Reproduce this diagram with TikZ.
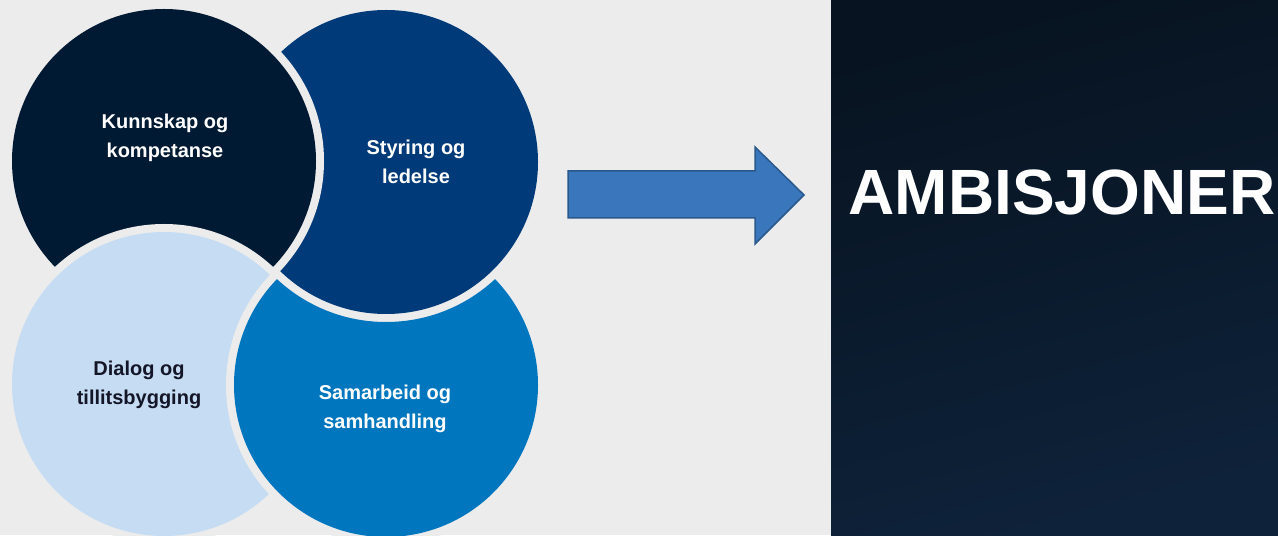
\documentclass[tikz,border=0pt]{standalone}
\usepackage{fontspec}
\setmainfont{Liberation Sans}
\usepackage{tikz}
\usetikzlibrary{positioning, calc}
\usepackage{xcolor}
\definecolor{bgcolor}{RGB}{236,236,236}
\definecolor{darkcircle}{RGB}{1,26,51}
\definecolor{navycircle}{RGB}{0,58,120}
\definecolor{lightcircle}{RGB}{197,220,242}
\definecolor{bluecircle}{RGB}{0,118,190}
\definecolor{arrowfill}{RGB}{58,118,188}
\definecolor{arrowline}{RGB}{40,88,140}
\definecolor{paneltop}{RGB}{7,19,32}
\definecolor{panelbottom}{RGB}{14,34,58}
\definecolor{darktext}{RGB}{20,22,40}

\begin{document}
\begin{tikzpicture}[
    x=0.5pt, y=0.5pt,
    circletext/.style={align=center, font=\fontsize{10}{14.5}\selectfont\bfseries, text=white},
    titletext/.style={font=\fontsize{32}{38}\selectfont\bfseries, text=white, anchor=base},
    bigarrow/.style={fill=arrowfill, draw=arrowline, line width=0.75pt, line join=miter}
]
\def\rad{152}
\def\gap{8}
% background and dark panel
\fill[bgcolor] (0,0) rectangle (1278,535);
\useasboundingbox (0,0) rectangle (1278,535);
\shade[top color=paneltop, bottom color=panelbottom, shading angle=15] (831,0) rectangle (1278,535);

\coordinate (c1) at (164,374);
\coordinate (c2) at (386,373);
\coordinate (c3) at (164,151);
\coordinate (c4) at (386,150);

% circles, each one lies over the next in turn
\fill[navycircle] (c2) circle[radius=\rad];
\fill[bgcolor] (c1) circle[radius=\rad+\gap];
\fill[darkcircle] (c1) circle[radius=\rad];
\fill[bgcolor] (c3) circle[radius=\rad+\gap];
\fill[lightcircle] (c3) circle[radius=\rad];
\begin{scope}
  % everything but the navy circle and its gap
  \clip (-20,-20) -- (-20,560) -- (1300,560) -- (1300,-20) -- cycle
        (c2) circle[radius=\rad+\gap];
  \fill[bgcolor] (c4) circle[radius=\rad+\gap];
  \fill[bluecircle] (c4) circle[radius=\rad];
\end{scope}

\node[circletext] (knowledge) at (165,397) {Kunnskap og\\kompetanse};
\node[circletext] (govern) at (416,373) {Styring og\\ledelse};
\node[circletext, text=darktext] (dialog) at (139,150) {Dialog og\\tillitsbygging};
\node[circletext] (collab) at (385,126) {Samarbeid og\\samhandling};

% block arrow
\draw[bigarrow] (568,364) -- (755,364) -- (755,388) -- (804,340) -- (755,291) -- (755,317) -- (568,317) -- cycle;

\node[titletext] (goal) at (1062,320) {AMBISJONER};
\end{tikzpicture}
\end{document}
